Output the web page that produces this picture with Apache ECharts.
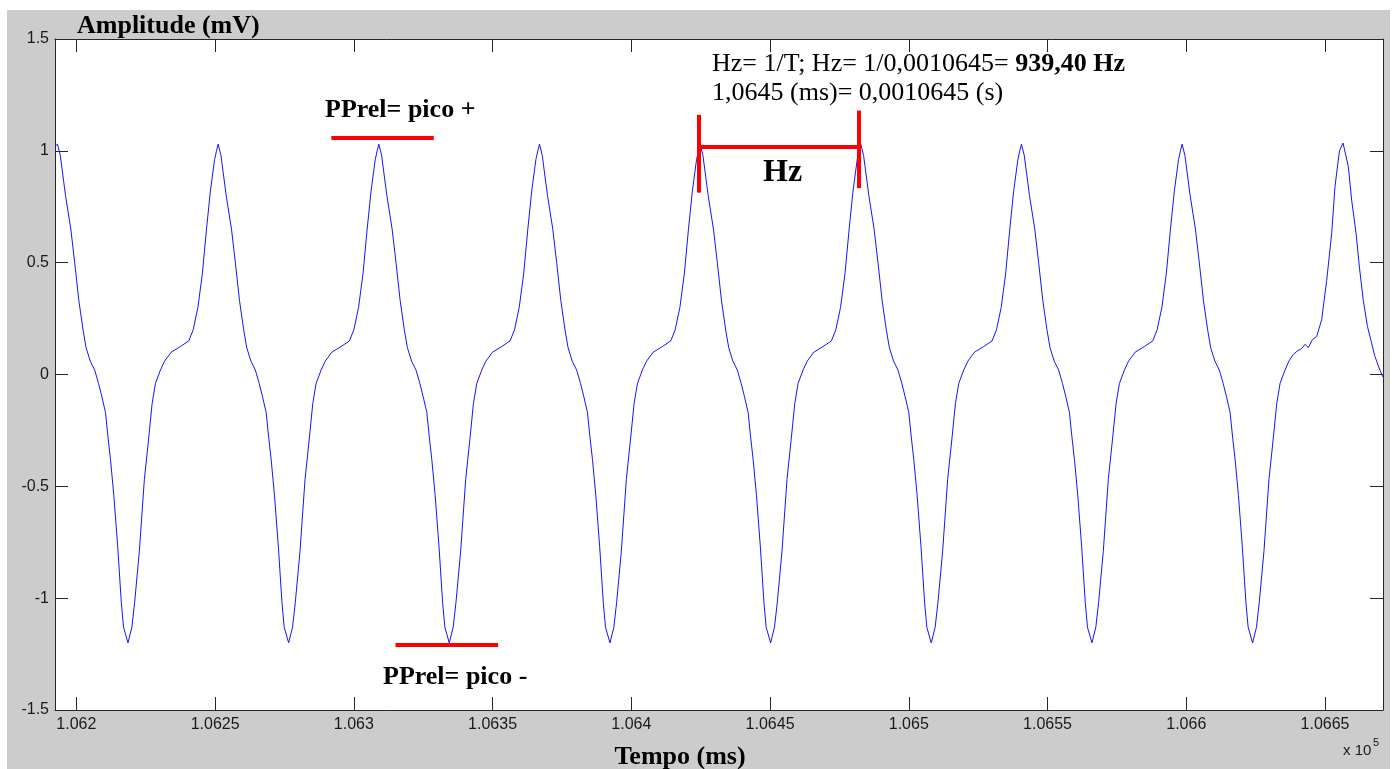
<!DOCTYPE html>
<html>
<head>
<meta charset="utf-8">
<title>Amplitude (mV) x Tempo (ms)</title>
<script src="https://cdn.jsdelivr.net/npm/echarts@6/dist/echarts.min.js"></script>
<style>
  html, body { margin: 0; padding: 0; background: #fff; }
  #chart { width: 1395px; height: 769px; }
</style>
</head>
<body>
<div id="chart"></div>
<script>
// sample times (ms), one line per cycle of the signal
const tempo = [
  106192.3,
  106193.2, 106194.2, 106196.1, 106198.0, 106199.4, 106200.9, 106202.4, 106203.5, 106205.0, 106206.6, 106208.0, 106209.2, 106210.5, 106211.4, 106212.3, 106213.5, 106214.9, 106216.2, 106217.0, 106218.6, 106220.0, 106221.0, 106222.7, 106224.5, 106226.1, 106227.3, 106228.5, 106230.3, 106231.8, 106234.2, 106237.5, 106240.5, 106242.1, 106243.8, 106245.4, 106246.9, 106248.3, 106249.8, 106250.5,
  106251.1, 106252.1, 106254.0, 106255.9, 106257.3, 106258.8, 106260.3, 106261.4, 106262.9, 106264.5, 106265.9, 106267.1, 106268.4, 106269.3, 106270.2, 106271.4, 106272.8, 106274.1, 106274.9, 106276.5, 106277.9, 106278.9, 106280.6, 106282.4, 106284.0, 106285.2, 106286.4, 106288.2, 106289.7, 106292.1, 106295.4, 106298.4, 106300.0, 106301.7, 106303.3, 106304.8, 106306.2, 106307.7, 106308.4,
  106309.0, 106310.0, 106311.9, 106313.8, 106315.2, 106316.7, 106318.2, 106319.3, 106320.8, 106322.4, 106323.8, 106325.0, 106326.3, 106327.2, 106328.1, 106329.3, 106330.7, 106332.0, 106332.8, 106334.4, 106335.8, 106336.8, 106338.5, 106340.3, 106341.9, 106343.1, 106344.3, 106346.1, 106347.6, 106350.0, 106353.3, 106356.3, 106357.9, 106359.6, 106361.2, 106362.7, 106364.1, 106365.6, 106366.3,
  106366.9, 106367.9, 106369.8, 106371.7, 106373.1, 106374.6, 106376.1, 106377.2, 106378.7, 106380.3, 106381.7, 106382.9, 106384.2, 106385.1, 106386.0, 106387.2, 106388.6, 106389.9, 106390.7, 106392.3, 106393.7, 106394.7, 106396.4, 106398.2, 106399.8, 106401.0, 106402.2, 106404.0, 106405.5, 106407.9, 106411.2, 106414.2, 106415.8, 106417.5, 106419.1, 106420.6, 106422.0, 106423.5, 106424.2,
  106424.8, 106425.8, 106427.7, 106429.6, 106431.0, 106432.5, 106434.0, 106435.1, 106436.6, 106438.2, 106439.6, 106440.8, 106442.1, 106443.0, 106443.9, 106445.1, 106446.5, 106447.8, 106448.6, 106450.2, 106451.6, 106452.6, 106454.3, 106456.1, 106457.7, 106458.9, 106460.1, 106461.9, 106463.4, 106465.8, 106469.1, 106472.1, 106473.7, 106475.4, 106477.0, 106478.5, 106479.9, 106481.4, 106482.1,
  106482.7, 106483.7, 106485.6, 106487.5, 106488.9, 106490.4, 106491.9, 106493.0, 106494.5, 106496.1, 106497.5, 106498.7, 106500.0, 106500.9, 106501.8, 106503.0, 106504.4, 106505.7, 106506.5, 106508.1, 106509.5, 106510.5, 106512.2, 106514.0, 106515.6, 106516.8, 106518.0, 106519.8, 106521.3, 106523.7, 106527.0, 106530.0, 106531.6, 106533.3, 106534.9, 106536.4, 106537.8, 106539.3, 106540.0,
  106540.6, 106541.6, 106543.5, 106545.4, 106546.8, 106548.3, 106549.8, 106550.9, 106552.4, 106554.0, 106555.4, 106556.6, 106557.9, 106558.8, 106559.7, 106560.9, 106562.3, 106563.6, 106564.4, 106566.0, 106567.4, 106568.4, 106570.1, 106571.9, 106573.5, 106574.7, 106575.9, 106577.7, 106579.2, 106581.6, 106584.9, 106587.9, 106589.5, 106591.2, 106592.8, 106594.3, 106595.7, 106597.2, 106597.9,
  106598.5, 106599.5, 106601.4, 106603.3, 106604.7, 106606.2, 106607.7, 106608.8, 106610.3, 106611.9, 106613.3, 106614.5, 106615.8, 106616.7, 106617.6, 106618.8, 106620.2, 106621.5, 106622.3, 106623.9, 106625.3, 106626.3, 106628.0, 106629.8, 106631.4, 106632.6, 106633.8, 106635.6,
  106637.0, 106638.6, 106640.0, 106641.5, 106642.8, 106644.0, 106645.4, 106647.0, 106648.8, 106650.6, 106652.4, 106653.6, 106655.2,
  106656.5, 106658.4, 106659.6, 106661.2, 106662.4, 106663.8, 106665.3, 106666.5, 106668.0, 106669.8, 106670.8
];

// amplitude (mV) read at the same samples
const amplitude = [
  1.02,
  1.03, 0.98, 0.80, 0.65, 0.50, 0.33, 0.20, 0.12, 0.06, 0.02, -0.04, -0.10, -0.17, -0.28, -0.38, -0.54, -0.77, -1.02, -1.13, -1.20, -1.13, -1.02, -0.79, -0.47, -0.28, -0.13, -0.04, 0.02, 0.06, 0.10, 0.125, 0.15, 0.20, 0.30, 0.45, 0.65, 0.82, 0.96, 1.00,
  1.03, 0.98, 0.80, 0.65, 0.50, 0.33, 0.20, 0.12, 0.06, 0.02, -0.04, -0.10, -0.17, -0.28, -0.38, -0.54, -0.77, -1.02, -1.13, -1.20, -1.13, -1.02, -0.79, -0.47, -0.28, -0.13, -0.04, 0.02, 0.06, 0.10, 0.125, 0.15, 0.20, 0.30, 0.45, 0.65, 0.82, 0.96, 1.00,
  1.03, 0.98, 0.80, 0.65, 0.50, 0.33, 0.20, 0.12, 0.06, 0.02, -0.04, -0.10, -0.17, -0.28, -0.38, -0.54, -0.77, -1.02, -1.13, -1.20, -1.13, -1.02, -0.79, -0.47, -0.28, -0.13, -0.04, 0.02, 0.06, 0.10, 0.125, 0.15, 0.20, 0.30, 0.45, 0.65, 0.82, 0.96, 1.00,
  1.03, 0.98, 0.80, 0.65, 0.50, 0.33, 0.20, 0.12, 0.06, 0.02, -0.04, -0.10, -0.17, -0.28, -0.38, -0.54, -0.77, -1.02, -1.13, -1.20, -1.13, -1.02, -0.79, -0.47, -0.28, -0.13, -0.04, 0.02, 0.06, 0.10, 0.125, 0.15, 0.20, 0.30, 0.45, 0.65, 0.82, 0.96, 1.00,
  1.03, 0.98, 0.80, 0.65, 0.50, 0.33, 0.20, 0.12, 0.06, 0.02, -0.04, -0.10, -0.17, -0.28, -0.38, -0.54, -0.77, -1.02, -1.13, -1.20, -1.13, -1.02, -0.79, -0.47, -0.28, -0.13, -0.04, 0.02, 0.06, 0.10, 0.125, 0.15, 0.20, 0.30, 0.45, 0.65, 0.82, 0.96, 1.00,
  1.03, 0.98, 0.80, 0.65, 0.50, 0.33, 0.20, 0.12, 0.06, 0.02, -0.04, -0.10, -0.17, -0.28, -0.38, -0.54, -0.77, -1.02, -1.13, -1.20, -1.13, -1.02, -0.79, -0.47, -0.28, -0.13, -0.04, 0.02, 0.06, 0.10, 0.125, 0.15, 0.20, 0.30, 0.45, 0.65, 0.82, 0.96, 1.00,
  1.03, 0.98, 0.80, 0.65, 0.50, 0.33, 0.20, 0.12, 0.06, 0.02, -0.04, -0.10, -0.17, -0.28, -0.38, -0.54, -0.77, -1.02, -1.13, -1.20, -1.13, -1.02, -0.79, -0.47, -0.28, -0.13, -0.04, 0.02, 0.06, 0.10, 0.125, 0.15, 0.20, 0.30, 0.45, 0.65, 0.82, 0.96, 1.00,
  1.03, 0.98, 0.80, 0.65, 0.50, 0.33, 0.20, 0.12, 0.06, 0.02, -0.04, -0.10, -0.17, -0.28, -0.38, -0.54, -0.77, -1.02, -1.13, -1.20, -1.13, -1.02, -0.79, -0.47, -0.28, -0.13, -0.04, 0.02,
  0.06, 0.09, 0.105, 0.115, 0.135, 0.12, 0.155, 0.17, 0.245, 0.42, 0.63, 0.84, 1.00,
  1.035, 0.93, 0.78, 0.63, 0.48, 0.33, 0.215, 0.155, 0.08, 0.02, -0.01
];

const xMin = 106192.3;
const xMax = 106670.9;
const xTickValues = [106200, 106250, 106300, 106350, 106400, 106450, 106500, 106550, 106600, 106650];
const xTickLabels = ['1.062', '1.0625', '1.063', '1.0635', '1.064', '1.0645', '1.065', '1.0655', '1.066', '1.0665'];
const yTickValues = [-1.5, -1, -0.5, 0, 0.5, 1, 1.5];
const yTickLabels = ['-1.5', '-1', '-0.5', '0', '0.5', '1', '1.5'];

// red annotation strokes, [t1, v1, t2, v2] in data units
const redLines = [
  [106291.9, 1.057, 106328.8, 1.057],
  [106315.0, -1.207, 106352.0, -1.207],
  [106424.4, 1.019, 106482.1, 1.019],
  [106424.4, 1.161, 106424.4, 0.813],
  [106482.1, 1.180, 106482.1, 0.833]
];

const serif = '"Liberation Serif", "Times New Roman", serif';
const sans = '"Liberation Sans", Arial, sans-serif';
const axisColor = '#262626';

const chart = echarts.init(document.getElementById('chart'));

function axisX(position, withLabels) {
  return {
    type: 'value',
    min: xMin,
    max: xMax,
    position: position,
    axisLine: { show: true, onZero: false, lineStyle: { color: axisColor, width: 1 } },
    axisTick: { show: true, inside: true, length: 13, customValues: xTickValues, lineStyle: { color: axisColor } },
    axisLabel: {
      show: withLabels,
      customValues: xTickValues,
      formatter: (v) => {
        const i = xTickValues.indexOf(v);
        return i < 0 ? '' : xTickLabels[i];
      },
      fontFamily: sans,
      fontSize: 16,
      color: '#1a1a1a',
      margin: 7
    },
    splitLine: { show: false }
  };
}

function axisY(position, withLabels) {
  return {
    type: 'value',
    min: -1.5,
    max: 1.5,
    interval: 0.5,
    position: position,
    axisLine: { show: true, onZero: false, lineStyle: { color: axisColor, width: 1 } },
    axisTick: { show: true, inside: true, length: 13, customValues: yTickValues, lineStyle: { color: axisColor } },
    axisLabel: {
      show: withLabels,
      customValues: yTickValues,
      formatter: (v) => {
        const i = yTickValues.indexOf(v);
        return i < 0 ? '' : yTickLabels[i];
      },
      fontFamily: sans,
      fontSize: 16,
      color: '#1a1a1a',
      margin: 6
    },
    splitLine: { show: false }
  };
}

const option = {
  animation: false,
  backgroundColor: '#ffffff',
  grid: {
    left: 55,
    right: 12,
    top: 39,
    bottom: 59,
    show: true,
    backgroundColor: '#ffffff',
    borderWidth: 0
  },
  xAxis: [axisX('bottom', true), axisX('top', false)],
  yAxis: [axisY('left', true), axisY('right', false)],
  series: [{
    type: 'line',
    xAxisIndex: 0,
    yAxisIndex: 0,
    data: tempo.map((t, i) => [t, amplitude[i]]),
    showSymbol: false,
    symbol: 'none',
    lineStyle: { color: '#1414ff', width: 1 },
    itemStyle: { color: '#1414ff' },
    markLine: {
      silent: true,
      symbol: ['none', 'none'],
      label: { show: false },
      lineStyle: { color: '#ff0000', width: 4, type: 'solid' },
      data: redLines.map(l => [{ coord: [l[0], l[1]] }, { coord: [l[2], l[3]] }])
    }
  }],
  graphic: [
    // figure background
    { type: 'rect', z: -1, silent: true, shape: { x: 7, y: 10, width: 1383, height: 759 }, style: { fill: '#cccccc' } },
    { type: 'text', x: 77, y: 26, style: { text: 'Amplitude (mV)', font: 'bold 26px ' + serif, fill: '#000', verticalAlign: 'middle' } },
    { type: 'text', x: 680, y: 757, style: { text: 'Tempo (ms)', font: 'bold 26px ' + serif, fill: '#000', align: 'center', verticalAlign: 'middle' } },
    { type: 'text', x: 1343, y: 751, style: { text: 'x 10', font: '15px ' + sans, fill: '#1a1a1a', verticalAlign: 'middle' } },
    { type: 'text', x: 1373, y: 743, style: { text: '5', font: '11px ' + sans, fill: '#1a1a1a', verticalAlign: 'middle' } },
    { type: 'text', x: 325, y: 110, style: { text: 'PPrel= pico +', font: 'bold 26px ' + serif, fill: '#000', verticalAlign: 'middle' } },
    { type: 'text', x: 383, y: 677, style: { text: 'PPrel= pico -', font: 'bold 26px ' + serif, fill: '#000', verticalAlign: 'middle' } },
    { type: 'text', x: 763, y: 173, style: { text: 'Hz', font: 'bold 32px ' + serif, fill: '#000', verticalAlign: 'middle' } },
    {
      type: 'text', x: 712, y: 64,
      style: {
        text: '{r|Hz= 1/T; Hz= 1/0,0010645= }{b|939,40 Hz}',
        verticalAlign: 'middle',
        rich: {
          r: { font: '26px ' + serif, fill: '#000' },
          b: { font: 'bold 26px ' + serif, fill: '#000' }
        }
      }
    },
    { type: 'text', x: 712, y: 93, style: { text: '1,0645 (ms)= 0,0010645 (s)', font: '26px ' + serif, fill: '#000', verticalAlign: 'middle' } }
  ]
};

chart.setOption(option);
</script>
</body>
</html>
